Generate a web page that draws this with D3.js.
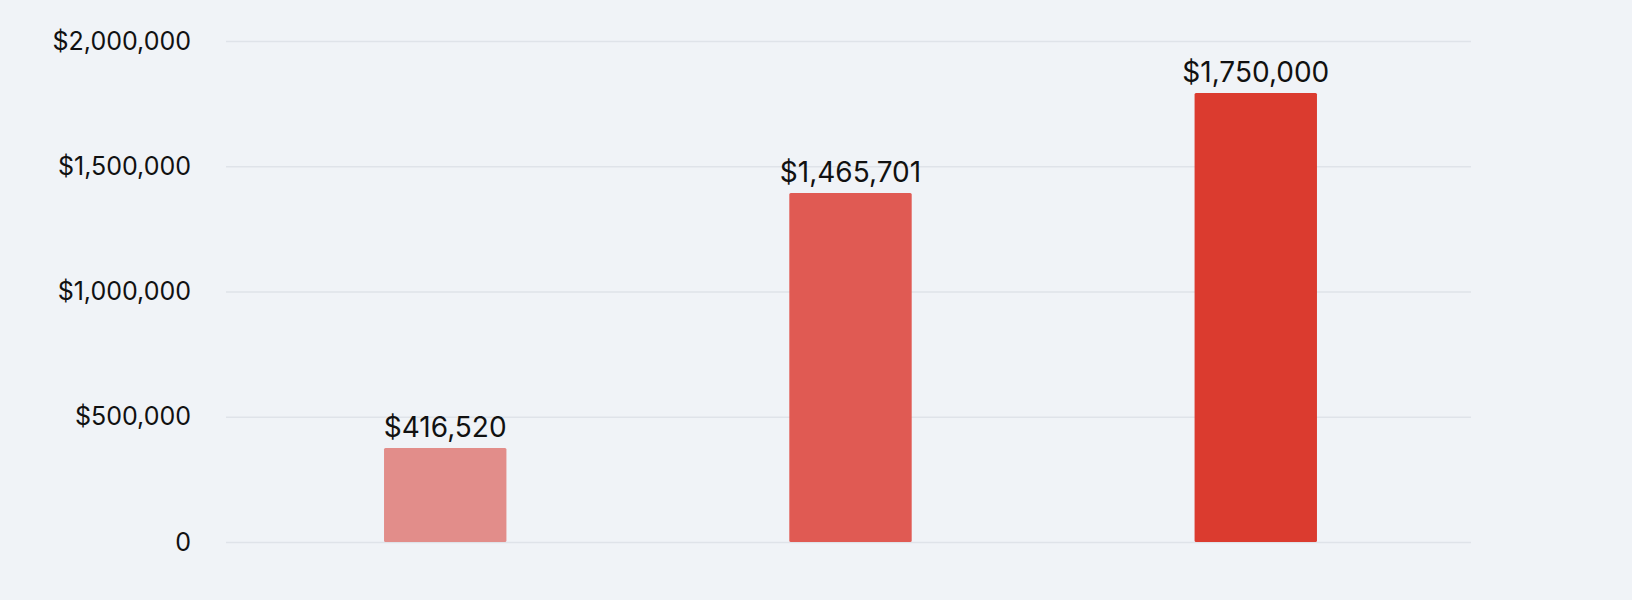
<!DOCTYPE html>
<html>
<head>
<meta charset="utf-8">
<script src="https://cdn.jsdelivr.net/npm/d3@7"></script>
<style>
  html, body { margin: 0; padding: 0; background: #f0f3f7; }
  svg { display: block; }
  text { font-family: Inter, "Liberation Sans", sans-serif; fill: #111; }
</style>
</head>
<body>
<svg id="chart"></svg>
<script>
// data
var categories = ["A", "B", "C"];
var barValues = [375000, 1393000, 1792000];       // bar heights as drawn
var barLabels = ["$416,520", "$1,465,701", "$1,750,000"]; // printed labels
var barColors = ["#e28d8a", "#e05a53", "#db3b2f"];
var yTicks = [0, 500000, 1000000, 1500000, 2000000];
var yTickLabels = ["0", "$500,000", "$1,000,000", "$1,500,000", "$2,000,000"];

var width = 1632,
    height = 600;

var margin = { top: 41, left: 226, right: 161, bottom: 58 };

var svg = d3.select("#chart")
  .attr("width", width)
  .attr("height", height);

// bars sit a hair right of the grid centre in the original
var x = d3.scaleBand()
  .domain(categories)
  .range([margin.left + 2, width - margin.right + 2])
  .paddingInner(0.698)
  .paddingOuter(0.385);

var y = d3.scaleLinear()
  .domain([0, 2000000])
  .range([height - margin.bottom, margin.top]);

// gridlines + tick labels
var yAxis = d3.axisLeft(y)
  .tickValues(yTicks)
  .tickSize(-(width - margin.left - margin.right))
  .tickPadding(35)
  .tickFormat(function(d, i) { return yTickLabels[i]; });

var g = svg.append("g")
  .attr("transform", "translate(" + margin.left + ",0)")
  .call(yAxis);

g.select(".domain").remove();
g.selectAll(".tick line")
  .attr("stroke", "#dfe3e9")
  .attr("stroke-width", 1.5);
g.selectAll(".tick text")
  .style("font-family", "Inter, 'Liberation Sans', sans-serif")
  .style("font-size", "25px")
  .attr("fill", "#111");

// bars
svg.selectAll("rect.bar")
  .data(barValues)
  .enter().append("rect")
  .attr("class", "bar")
  .attr("x", function(d, i) { return x(categories[i]); })
  .attr("y", function(d) { return y(d); })
  .attr("width", x.bandwidth())
  .attr("height", function(d) { return y(0) - y(d); })
  .attr("rx", 1.5)
  .attr("fill", function(d, i) { return barColors[i]; });

// value labels
svg.selectAll("text.val")
  .data(barValues)
  .enter().append("text")
  .attr("class", "val")
  .attr("x", function(d, i) { return x(categories[i]) + x.bandwidth() / 2; })
  .attr("y", function(d) { return y(d) - 11; })
  .attr("text-anchor", "middle")
  .style("font-size", "28px")
  .text(function(d, i) { return barLabels[i]; });
</script>
</body>
</html>
